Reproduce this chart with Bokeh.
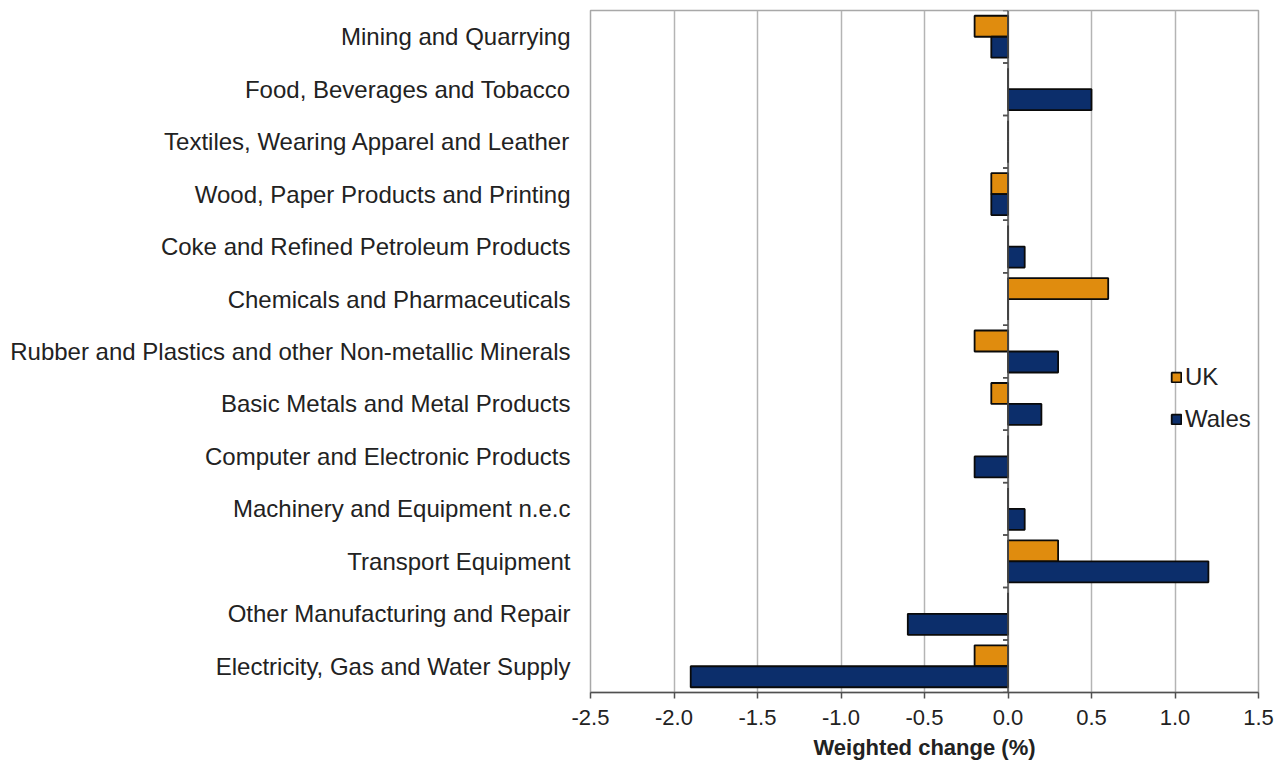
from bokeh.plotting import figure
from bokeh.models import FactorRange, ColumnDataSource, Span, FixedTicker, Range1d, Legend, LegendItem
from bokeh.transform import dodge
from bokeh.embed import file_html
from bokeh.resources import INLINE

categories = [
    "Mining and Quarrying",
    "Food, Beverages and Tobacco",
    "Textiles, Wearing Apparel and Leather",
    "Wood, Paper Products and Printing",
    "Coke and Refined Petroleum Products",
    "Chemicals and Pharmaceuticals",
    "Rubber and Plastics and other Non-metallic Minerals",
    "Basic Metals and Metal Products",
    "Computer and Electronic Products",
    "Machinery and Equipment n.e.c",
    "Transport Equipment",
    "Other Manufacturing and Repair",
    "Electricity, Gas and Water Supply",
]
uk = [-0.2, 0.0, 0.0, -0.1, 0.0, 0.6, -0.2, -0.1, 0.0, 0.0, 0.3, 0.0, -0.2]
wales = [-0.1, 0.5, 0.0, -0.1, 0.1, 0.0, 0.3, 0.2, -0.2, 0.1, 1.2, -0.6, -1.9]
x_ticks = [-2.5, -2.0, -1.5, -1.0, -0.5, 0.0, 0.5, 1.0, 1.5]

UK_COLOR = "#E08C0E"
WALES_COLOR = "#0C2E6B"
TEXT = "#222222"
FONT = "Liberation Sans"

src = ColumnDataSource(dict(cat=categories, uk=uk, wales=wales))

p = figure(width=1274, height=762, output_backend="svg", toolbar_location=None,
           y_range=FactorRange(*reversed(categories), range_padding=0),
           x_range=Range1d(x_ticks[0], x_ticks[-1]),
           min_border_left=590, min_border_right=16, min_border_top=10, min_border_bottom=70)

p.outline_line_color = "#a8a8a8"
p.outline_line_width = 1.5
p.background_fill_color = "white"
p.border_fill_color = "white"

# grid
p.ygrid.grid_line_color = None
p.xgrid.grid_line_color = "#b4b4b4"
p.xgrid.grid_line_width = 1.5
p.xgrid.ticker = FixedTicker(ticks=x_ticks)

r_uk = p.hbar(y=dodge("cat", 0.2, range=p.y_range), right="uk", left=0, height=0.4,
              source=src, fill_color=UK_COLOR, line_color="#0a0a0a", line_width=1.8)
r_w = p.hbar(y=dodge("cat", -0.2, range=p.y_range), right="wales", left=0, height=0.4,
             source=src, fill_color=WALES_COLOR, line_color="#0a0a0a", line_width=1.8)

# zero axis line
p.add_layout(Span(location=0, dimension="height", line_color="#505050", line_width=1.5))

# category boundary ticks on the zero line
bsrc = ColumnDataSource(dict(cat=categories))
p.segment(x0=-0.03, x1=0, y0=dodge("cat", 0.5, range=p.y_range), y1=dodge("cat", 0.5, range=p.y_range),
          source=bsrc, line_color="#505050", line_width=1.5)
p.segment(x0=-0.03, x1=0, y0=dodge("cat", -0.5, range=p.y_range), y1=dodge("cat", -0.5, range=p.y_range),
          source=bsrc, line_color="#505050", line_width=1.5)

# y axis
p.yaxis.axis_line_color = None
p.yaxis.major_tick_line_color = None
p.yaxis.minor_tick_line_color = None
p.yaxis.major_label_standoff = 14
p.yaxis.major_label_text_font = FONT
p.yaxis.major_label_text_font_size = "24px"
p.yaxis.major_label_text_color = TEXT

# x axis
p.xaxis.ticker = FixedTicker(ticks=x_ticks)
p.xaxis.major_label_overrides = {t: f"{t:.1f}" for t in x_ticks}
p.xaxis.axis_line_color = "#505050"
p.xaxis.axis_line_width = 1.5
p.xaxis.major_tick_line_color = "#505050"
p.xaxis.major_tick_line_width = 1.5
p.xaxis.major_tick_in = 0
p.xaxis.major_tick_out = 6
p.xaxis.minor_tick_line_color = None
p.xaxis.major_label_text_font = FONT
p.xaxis.major_label_text_font_size = "22px"
p.xaxis.major_label_text_color = TEXT
p.xaxis.major_label_standoff = 11
p.xaxis.axis_label = "Weighted change (%)"
p.xaxis.axis_label_text_font = FONT
p.xaxis.axis_label_text_font_size = "22px"
p.xaxis.axis_label_text_font_style = "bold"
p.xaxis.axis_label_text_color = TEXT
p.xaxis.axis_label_standoff = 7

legend = Legend(items=[LegendItem(label="UK", renderers=[r_uk]),
                       LegendItem(label="Wales", renderers=[r_w])],
                location=(580, 259), orientation="vertical")
legend.background_fill_alpha = 0
legend.border_line_color = None
legend.glyph_width = 12
legend.glyph_height = 12
legend.label_text_font = FONT
legend.label_text_font_size = "24px"
legend.label_text_color = TEXT
legend.label_standoff = 3
legend.spacing = 14
legend.padding = 0
legend.margin = 0
p.add_layout(legend)

open("out.html", "w").write(file_html(p, INLINE))
